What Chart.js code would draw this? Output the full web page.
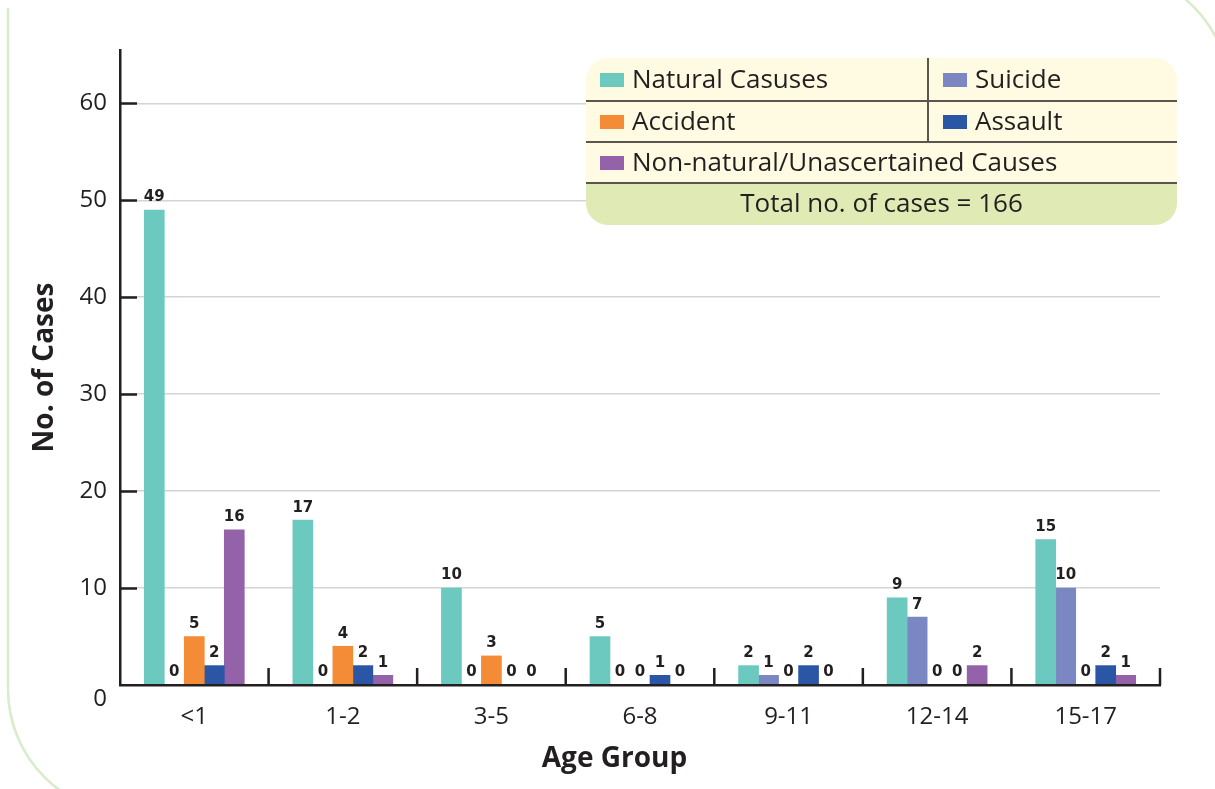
<!DOCTYPE html>
<html>
<head>
<meta charset="utf-8">
<script src="https://cdn.jsdelivr.net/npm/chart.js@4"></script>
<style>
  html, body { margin: 0; padding: 0; background: #ffffff; }
  canvas { display: block; }
</style>
</head>
<body>
<canvas id="chart" width="1215" height="789"></canvas>
<script>
// Age groups and counts per cause of death
const ageGroups = ['<1', '1-2', '3-5', '6-8', '9-11', '12-14', '15-17'];
const naturalCauses = [49, 17, 10, 5, 2, 9, 15];
const suicide = [0, 0, 0, 0, 1, 7, 10];
const accident = [5, 4, 3, 0, 0, 0, 0];
const assault = [2, 2, 0, 1, 2, 0, 2];
const nonNatural = [16, 1, 0, 0, 0, 2, 1];
const yTickValues = [0, 10, 20, 30, 40, 50, 60];

const seriesNames = ['Natural Casuses', 'Suicide', 'Accident', 'Assault', 'Non-natural/Unascertained Causes'];
const seriesColors = ['#6cc9c0', '#7b87c3', '#f38b37', '#2b56a5', '#9362a8'];
const seriesValues = [naturalCauses, suicide, accident, assault, nonNatural];

const INK = '#231f20';
const FONT = '"Open Sans", "Noto Sans", sans-serif';
const X_TITLE = 'Age Group';

// Light green page frame
const framePlugin = {
  id: 'frame',
  beforeDraw(chart) {
    const ctx = chart.ctx;
    ctx.save();
    ctx.strokeStyle = '#d6ecca';
    ctx.lineWidth = 2.5;
    ctx.beginPath();
    ctx.moveTo(8, 8);
    ctx.lineTo(8, 689);
    ctx.arc(133, 689, 125, Math.PI, Math.PI / 2, true);
    ctx.stroke();
    ctx.beginPath();
    ctx.arc(1105, 95, 125, -Math.PI / 2, 0, false);
    ctx.stroke();
    ctx.restore();
  }
};

// Short inward tick marks on both axes, and the x-axis title centred on the page
const axisDecorPlugin = {
  id: 'axisDecor',
  afterDraw(chart) {
    const { ctx, chartArea, scales } = chart;
    ctx.save();
    ctx.strokeStyle = INK;
    ctx.lineWidth = 2.5;
    ctx.beginPath();
    scales.y.ticks.forEach(t => {
      if (t.value === 0) return;
      const y = Math.round(scales.y.getPixelForValue(t.value)) + 0.5;
      ctx.moveTo(chartArea.left, y);
      ctx.lineTo(chartArea.left + 17, y);
    });
    const n = ageGroups.length;
    for (let i = 1; i <= n; i++) {
      const x = i < n
        ? (scales.x.getPixelForValue(i - 1) + scales.x.getPixelForValue(i)) / 2
        : chartArea.right;
      ctx.moveTo(x, chartArea.bottom);
      ctx.lineTo(x, chartArea.bottom - 17);
    }
    ctx.stroke();

    ctx.fillStyle = INK;
    ctx.font = 'bold 28px ' + FONT;
    ctx.textAlign = 'center';
    ctx.textBaseline = 'middle';
    ctx.fillText(X_TITLE, chart.width / 2 + 7, 759);
    ctx.restore();
  }
};

// Value above every bar
const valueLabelsPlugin = {
  id: 'valueLabels',
  afterDatasetsDraw(chart) {
    const ctx = chart.ctx;
    ctx.save();
    ctx.fillStyle = INK;
    ctx.font = 'bold 15px "DejaVu Sans", sans-serif';
    ctx.textAlign = 'center';
    ctx.textBaseline = 'bottom';
    chart.data.datasets.forEach((ds, di) => {
      const meta = chart.getDatasetMeta(di);
      meta.data.forEach((bar, i) => {
        ctx.fillText(String(ds.data[i]), bar.x, bar.y - 5);
      });
    });
    ctx.restore();
  }
};

// Boxed legend with total row
const legendBoxPlugin = {
  id: 'legendBox',
  afterDraw(chart) {
    const ctx = chart.ctx;
    const ds = chart.data.datasets;
    const left = 586, right = 1177, top = 58, bottom = 225, split = 928;
    const rowEdges = [58, 101, 142, 183, 225];
    ctx.save();
    ctx.beginPath();
    ctx.roundRect(left, top, right - left, bottom - top, 22);
    ctx.clip();
    ctx.fillStyle = '#fffbe2';
    ctx.fillRect(left, top, right - left, rowEdges[3] - top);
    ctx.fillStyle = '#dfeab4';
    ctx.fillRect(left, rowEdges[3], right - left, bottom - rowEdges[3]);
    ctx.restore();

    ctx.save();
    ctx.strokeStyle = '#5a554f';
    ctx.lineWidth = 2;
    ctx.beginPath();
    for (let r = 1; r <= 3; r++) {
      ctx.moveTo(left, rowEdges[r]);
      ctx.lineTo(right, rowEdges[r]);
    }
    ctx.moveTo(split, rowEdges[0]);
    ctx.lineTo(split, rowEdges[2]);
    ctx.stroke();

    ctx.font = '26px ' + FONT;
    ctx.textBaseline = 'middle';
    ctx.fillStyle = INK;
    ds.forEach((d, i) => {
      const row = Math.floor(i / 2);
      const col = i % 2;
      const cy = (rowEdges[row] + rowEdges[row + 1]) / 2;
      const sx = col === 0 ? 600 : 943;
      ctx.fillStyle = seriesColors[i];
      ctx.fillRect(sx, Math.round(cy - 7), 24, 14);
      ctx.fillStyle = INK;
      ctx.textAlign = 'left';
      ctx.fillText(d.label, sx + 32, cy + 1);
    });
    const total = ds.reduce((s, d) => s + d.data.reduce((a, b) => a + b, 0), 0);
    ctx.textAlign = 'center';
    ctx.fillText('Total no. of cases = ' + total, (left + right) / 2, (rowEdges[3] + rowEdges[4]) / 2 + 1);
    ctx.restore();
  }
};

new Chart(document.getElementById('chart'), {
  type: 'bar',
  data: {
    labels: ageGroups,
    datasets: seriesNames.map((name, i) => ({
      label: name,
      data: seriesValues[i],
      // empty categories get no visible sliver
      backgroundColor: c => (c.raw === 0 ? 'rgba(0,0,0,0)' : seriesColors[i]),
      borderWidth: 0,
      barThickness: 20
    }))
  },
  options: {
    responsive: false,
    devicePixelRatio: 1,
    animation: false,
    layout: { padding: { top: 50, right: 55, left: 0, bottom: 0 } },
    plugins: {
      legend: { display: false },
      tooltip: { enabled: false }
    },
    scales: {
      x: {
        offset: true,
        grid: { display: false, drawTicks: false },
        border: { display: true, color: INK, width: 2.5, z: 1 },
        ticks: { color: INK, font: { family: FONT, size: 24 }, padding: 18, maxRotation: 0 },
        title: { display: false, text: X_TITLE },
        afterFit(scale) { scale.height = 104; }
      },
      y: {
        min: 0,
        max: 65.5,
        afterBuildTicks(scale) {
          scale.ticks = yTickValues.map(v => ({ value: v }));
        },
        grid: { color: '#d4d4d4', lineWidth: 1.5, drawTicks: false },
        border: { display: true, color: INK, width: 2.5 },
        ticks: {
          color: INK,
          font: { family: FONT, size: 24 },
          padding: 13,
          callback: v => (v === 0 ? ['', '0'] : String(v))
        },
        title: {
          display: true,
          text: 'No. of Cases',
          color: INK,
          font: { family: FONT, size: 28, weight: 'bold' },
          padding: { top: 28, bottom: 0 }
        },
        afterFit(scale) { scale.width = 120; }
      }
    }
  },
  plugins: [framePlugin, axisDecorPlugin, valueLabelsPlugin, legendBoxPlugin]
});
</script>
</body>
</html>
